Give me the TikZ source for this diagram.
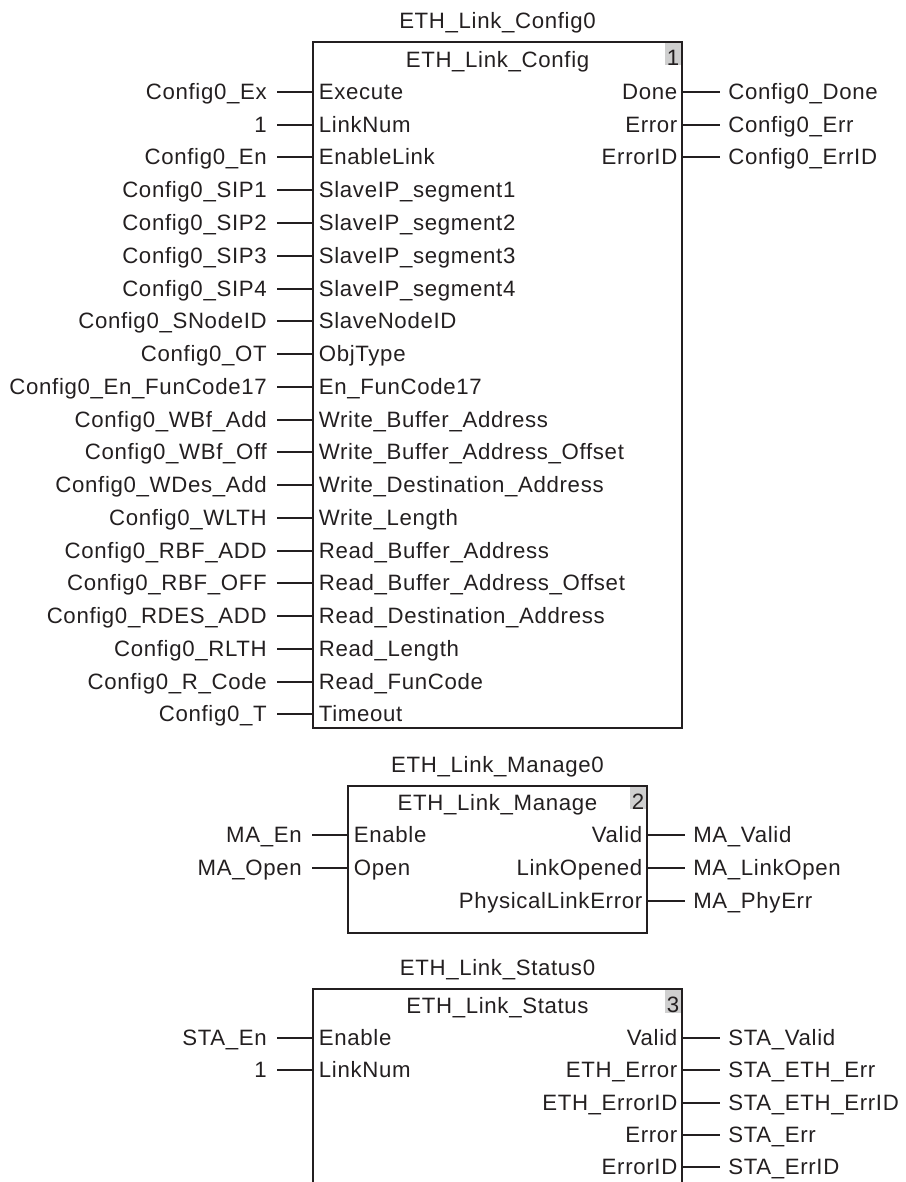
\documentclass[tikz,border=0pt]{standalone}
\usepackage{fontspec}
\setmainfont{Liberation Sans}[LetterSpace=3]
\usepackage{xcolor}
\usepackage{tikz}
\usetikzlibrary{positioning}
\definecolor{ink}{RGB}{35,31,32}

\begin{document}
\begin{tikzpicture}[
  x=0.025cm, y=-0.025cm,
  every node/.style={inner ysep=0pt,text height=11.3pt,text depth=0pt,text=ink,font=\fontsize{15.8}{18}\selectfont},
  inl/.style={anchor=east,inner xsep=0.25cm},
  inr/.style={anchor=west,inner xsep=0.2cm},
  pinl/.style={anchor=west,inner xsep=0.14cm},
  pinr/.style={anchor=east,inner xsep=0.11cm},
  fb/.style={draw=ink,line width=1pt},
  numbox/.style={anchor=north east,fill=gray!38,inner sep=0pt,text height=0.58cm,minimum width=0.43cm},
  wire/.style={draw=ink,line width=0.8pt}
]
  \useasboundingbox (0,0) rectangle (906,1182);

  % ETH_Link_Config
  \begin{scope}
    \node[numbox] (n1) at (682,42) {\hfill1};
    \draw[fb] (313,42) rectangle (682,728);
    \node (t1) at (497.5,21) {ETH\_Link\_Config0};
    \node (f1) at (497.5,60) {ETH\_Link\_Config};
    \node[inl] (cex) at (277,92) {Config0\_Ex};        \node[pinl] (pex) at (313,92) {Execute};
    \node[inl] (cln) at (277,125) {1};                 \node[pinl] (pln) at (313,125) {LinkNum};
    \node[inl] (cen) at (277,157) {Config0\_En};       \node[pinl] (pen) at (313,157) {EnableLink};
    \node[inl] (cs1) at (277,190) {Config0\_SIP1};     \node[pinl] (ps1) at (313,190) {SlaveIP\_segment1};
    \node[inl] (cs2) at (277,223) {Config0\_SIP2};     \node[pinl] (ps2) at (313,223) {SlaveIP\_segment2};
    \node[inl] (cs3) at (277,256) {Config0\_SIP3};     \node[pinl] (ps3) at (313,256) {SlaveIP\_segment3};
    \node[inl] (cs4) at (277,289) {Config0\_SIP4};     \node[pinl] (ps4) at (313,289) {SlaveIP\_segment4};
    \node[inl] (cnd) at (277,321) {Config0\_SNodeID};  \node[pinl] (pnd) at (313,321) {SlaveNodeID};
    \node[inl] (cot) at (277,354) {Config0\_OT};       \node[pinl] (pot) at (313,354) {ObjType};
    \node[inl] (cfc) at (277,387) {Config0\_En\_FunCode17}; \node[pinl] (pfc) at (313,387) {En\_FunCode17};
    \node[inl] (cwa) at (277,420) {Config0\_WBf\_Add}; \node[pinl] (pwa) at (313,420) {Write\_Buffer\_Address};
    \node[inl] (cwo) at (277,452) {Config0\_WBf\_Off}; \node[pinl] (pwo) at (313,452) {Write\_Buffer\_Address\_Offset};
    \node[inl] (cwd) at (277,485) {Config0\_WDes\_Add}; \node[pinl] (pwd) at (313,485) {Write\_Destination\_Address};
    \node[inl] (cwl) at (277,518) {Config0\_WLTH};     \node[pinl] (pwl) at (313,518) {Write\_Length};
    \node[inl] (cra) at (277,551) {Config0\_RBF\_ADD}; \node[pinl] (pra) at (313,551) {Read\_Buffer\_Address};
    \node[inl] (cro) at (277,583) {Config0\_RBF\_OFF}; \node[pinl] (pro) at (313,583) {Read\_Buffer\_Address\_Offset};
    \node[inl] (crd) at (277,616) {Config0\_RDES\_ADD}; \node[pinl] (prd) at (313,616) {Read\_Destination\_Address};
    \node[inl] (crl) at (277,649) {Config0\_RLTH};     \node[pinl] (prl) at (313,649) {Read\_Length};
    \node[inl] (crc) at (277,682) {Config0\_R\_Code};  \node[pinl] (prc) at (313,682) {Read\_FunCode};
    \node[inl] (cto) at (277,714) {Config0\_T};        \node[pinl] (pto) at (313,714) {Timeout};
    \node[pinr] (pdn) at (682,92) {Done};     \node[inr] (cdn) at (720,92) {Config0\_Done};
    \node[pinr] (per) at (682,125) {Error};   \node[inr] (cer) at (720,125) {Config0\_Err};
    \node[pinr] (pid) at (682,157) {ErrorID}; \node[inr] (cid) at (720,157) {Config0\_ErrID};
    \draw[wire] (cex)--(pex) (cln)--(pln) (cen)--(pen) (cs1)--(ps1) (cs2)--(ps2) (cs3)--(ps3)
      (cs4)--(ps4) (cnd)--(pnd) (cot)--(pot) (cfc)--(pfc) (cwa)--(pwa) (cwo)--(pwo)
      (cwd)--(pwd) (cwl)--(pwl) (cra)--(pra) (cro)--(pro) (crd)--(prd) (crl)--(prl)
      (crc)--(prc) (cto)--(pto);
    \draw[wire] (pdn)--(cdn) (per)--(cer) (pid)--(cid);
  \end{scope}

  % ETH_Link_Manage
  \begin{scope}
    \node[numbox] (n2) at (647,786) {\hfill2};
    \draw[fb] (348,786) rectangle (647,933);
    \node (t2) at (497.5,765) {ETH\_Link\_Manage0};
    \node (f2) at (497.5,803) {ETH\_Link\_Manage};
    \node[inl] (men) at (312,835) {MA\_En};   \node[pinl] (pme) at (348,835) {Enable};
    \node[inl] (mop) at (312,868) {MA\_Open}; \node[pinl] (pmo) at (348,868) {Open};
    \node[pinr] (pmv) at (647,835) {Valid};             \node[inr] (mva) at (685,835) {MA\_Valid};
    \node[pinr] (pml) at (647,868) {LinkOpened};        \node[inr] (mlo) at (685,868) {MA\_LinkOpen};
    \node[pinr] (pmp) at (647,901) {PhysicalLinkError}; \node[inr] (mpe) at (685,901) {MA\_PhyErr};
    \draw[wire] (men)--(pme) (mop)--(pmo);
    \draw[wire] (pmv)--(mva) (pml)--(mlo) (pmp)--(mpe);
  \end{scope}

  % ETH_Link_Status
  \begin{scope}
    \node[numbox] (n3) at (682,989) {\hfill3};
    \draw[fb] (313,1190) -- (313,989) -- (682,989) -- (682,1190);
    \node (t3) at (497.5,968) {ETH\_Link\_Status0};
    \node (f3) at (497.5,1006) {ETH\_Link\_Status};
    \node[inl] (sen) at (277,1038) {STA\_En}; \node[pinl] (pse) at (313,1038) {Enable};
    \node[inl] (sln) at (277,1070) {1};       \node[pinl] (psl) at (313,1070) {LinkNum};
    \node[pinr] (psv) at (682,1038) {Valid};       \node[inr] (sva) at (720,1038) {STA\_Valid};
    \node[pinr] (psx) at (682,1070) {ETH\_Error};   \node[inr] (sxe) at (720,1070) {STA\_ETH\_Err};
    \node[pinr] (psy) at (682,1103) {ETH\_ErrorID}; \node[inr] (sxi) at (720,1103) {STA\_ETH\_ErrID};
    \node[pinr] (psr) at (682,1135) {Error};       \node[inr] (ser) at (720,1135) {STA\_Err};
    \node[pinr] (psi) at (682,1167) {ErrorID};     \node[inr] (sei) at (720,1167) {STA\_ErrID};
    \draw[wire] (sen)--(pse) (sln)--(psl);
    \draw[wire] (psv)--(sva) (psx)--(sxe) (psy)--(sxi) (psr)--(ser) (psi)--(sei);
  \end{scope}
\end{tikzpicture}
\end{document}
